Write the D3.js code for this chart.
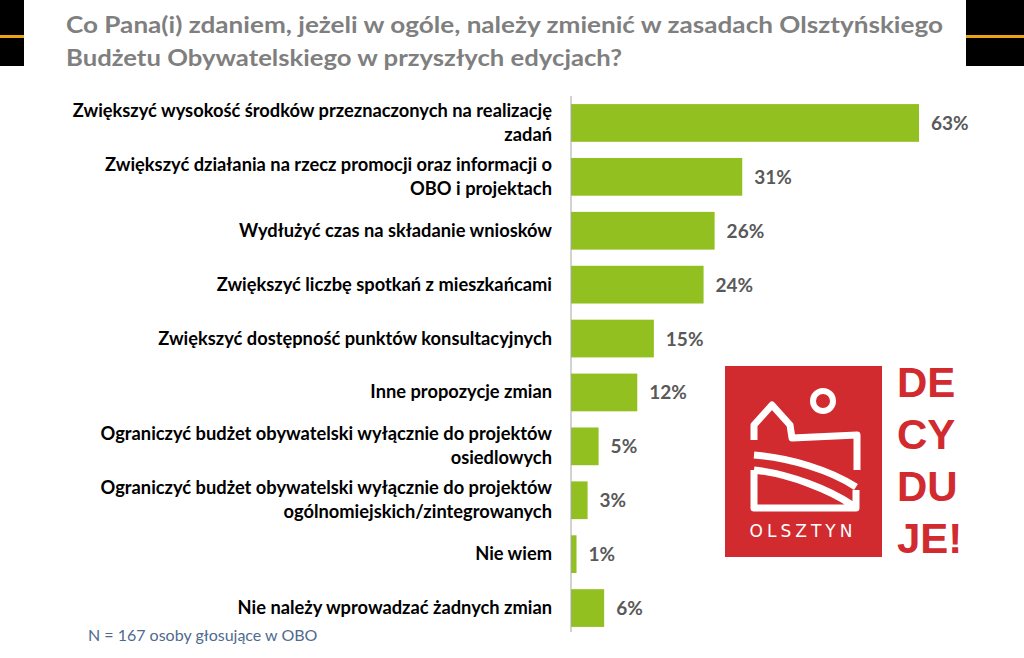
<!DOCTYPE html><html><head><meta charset="utf-8"><script src="https://cdn.jsdelivr.net/npm/d3@7"></script>
<style>body{margin:0;background:#fff}svg{display:block}</style></head><body><svg id="c" width="1024" height="658"></svg>
<script>
const categories=[["Zwiększyć wysokość środków przeznaczonych na realizację","zadań"],["Zwiększyć działania na rzecz promocji oraz informacji o","OBO i projektach"],["Wydłużyć czas na składanie wniosków"],["Zwiększyć liczbę spotkań z mieszkańcami"],["Zwiększyć dostępność punktów konsultacyjnych"],["Inne propozycje zmian"],["Ograniczyć budżet obywatelski wyłącznie do projektów","osiedlowych"],["Ograniczyć budżet obywatelski wyłącznie do projektów","ogólnomiejskich/zintegrowanych"],["Nie wiem"],["Nie należy wprowadzać żadnych zmian"]];
const values=[63,31,26,24,15,12,5,3,1,6];
const svg=d3.select("#c");
svg.append("rect").attr("x",0).attr("y",0).attr("width",1024).attr("height",66).attr("fill","#000");
svg.append("rect").attr("x",0).attr("y",35).attr("width",1024).attr("height",3).attr("fill","#e8a317");
svg.append("rect").attr("x",24).attr("y",0).attr("width",942).attr("height",66).attr("fill","#fff");
svg.append("text").attr("x",66).attr("y",33).attr("font-family","Lato, sans-serif").attr("font-weight",700).attr("font-size",22).attr("textLength",877).attr("lengthAdjust","spacingAndGlyphs").attr("fill","#7f7f7f").text("Co Pana(i) zdaniem, jeżeli w ogóle, należy zmienić w zasadach Olsztyńskiego");
svg.append("text").attr("x",66).attr("y",66).attr("font-family","Lato, sans-serif").attr("font-weight",700).attr("font-size",22).attr("textLength",556).attr("lengthAdjust","spacingAndGlyphs").attr("fill","#7f7f7f").text("Budżetu Obywatelskiego w przyszłych edycjach?");
const x=d3.scaleLinear().domain([0,63]).range([571,919]);
const y=d3.scaleBand().domain(d3.range(values.length)).range([96,635]).paddingInner(0.3).paddingOuter(0.15);
svg.selectAll(".b").data(values).join("rect").attr("x",x(0)).attr("y",(d,i)=>y(i)).attr("width",d=>x(d)-x(0)).attr("height",y.bandwidth()).attr("fill","#92c020");
svg.selectAll(".v").data(values).join("text").attr("x",d=>x(d)+12).attr("y",(d,i)=>y(i)+y.bandwidth()/2+7).attr("font-family","Lato, sans-serif").attr("font-weight",700).attr("font-size",19).attr("fill","#595959").text(d=>d+"%");
svg.append("line").attr("x1",571).attr("x2",571).attr("y1",96).attr("y2",632).attr("stroke","#a6a6a6");
categories.forEach((c,i)=>{const cy=y(i)+y.bandwidth()/2;const t=svg.append("text").attr("text-anchor","end").attr("font-family","Lato, sans-serif").attr("font-weight",700).attr("font-size",18.3).attr("fill","#000");
c.forEach((l,j)=>t.append("tspan").attr("x",552).attr("y",cy+6+(j-(c.length-1)/2)*24).text(l));});
svg.append("text").attr("x",88).attr("y",641).attr("font-family","Lato, sans-serif").attr("font-size",16).attr("fill","#4f6a8f").text("N =  167 osoby głosujące w OBO");
const g=svg.append("g");
g.append("rect").attr("x",725).attr("y",366).attr("width",157).attr("height",191).attr("fill","#d12a2f");
g.append("circle").attr("cx",823).attr("cy",401).attr("r",10).attr("fill","none").attr("stroke","#fff").attr("stroke-width",6);
g.append("path").attr("d","M754,440 L754,425 L772,405 L790,425 L792,438 L857,435 L857,470 M754,455 C790,458 830,470 856,487 M754,470 L754,508 L856,508 L856,490 M754,470 C790,474 830,490 852,505").attr("fill","none").attr("stroke","#fff").attr("stroke-width",7).attr("stroke-linejoin","round");
g.append("text").attr("x",803).attr("y",537).attr("text-anchor","middle").attr("font-family","DejaVu Sans, sans-serif").attr("font-size",17).attr("letter-spacing",4).attr("fill","#fff").text("OLSZTYN");
["DE","CY","DU","JE!"].forEach((s,i)=>g.append("text").attr("x",897).attr("y",397+i*52).attr("font-family","Liberation Sans, Arial, sans-serif").attr("font-weight",700).attr("font-size",42).attr("fill","#d12a2f").text(s));
</script></body></html>
